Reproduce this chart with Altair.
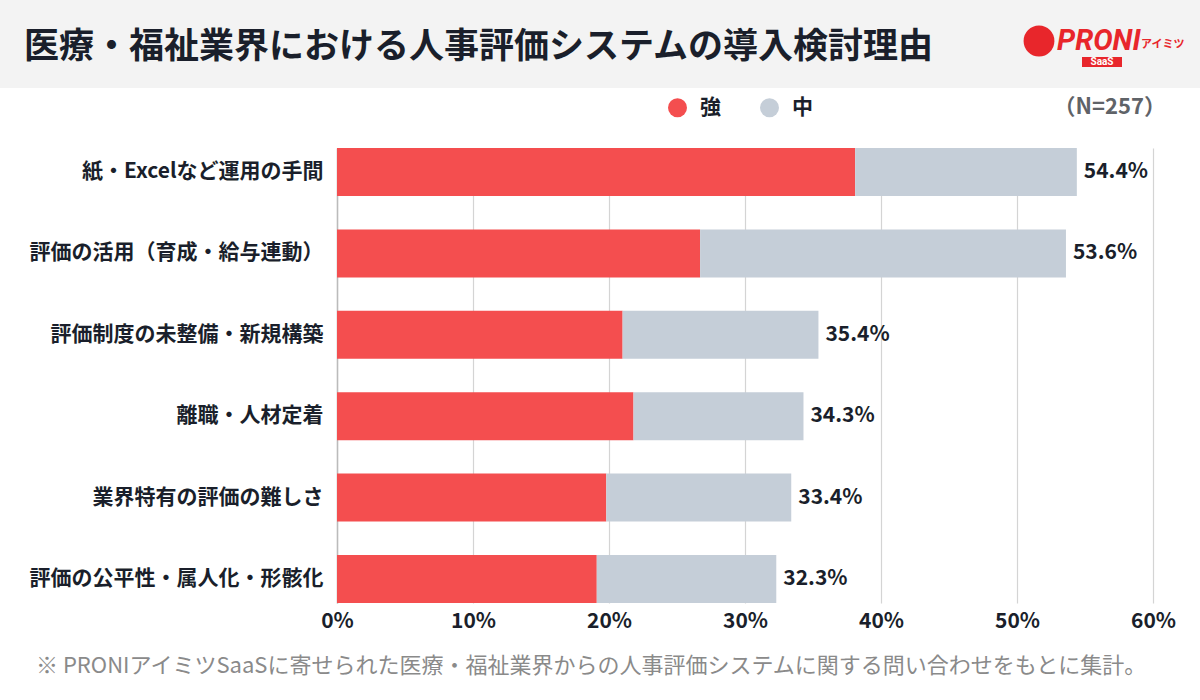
import altair as alt
import pandas as pd

# Survey reasons (top to bottom) and the share answering "strong" / "medium"
reasons = [
    "紙・Excelなど運用の手間",
    "評価の活用（育成・給与連動）",
    "評価制度の未整備・新規構築",
    "離職・人材定着",
    "業界特有の評価の難しさ",
    "評価の公平性・属人化・形骸化",
]
totals = [54.4, 53.6, 35.4, 34.3, 33.4, 32.3]
strong = [38.1, 26.7, 21.0, 21.8, 19.8, 19.1]
levels = ["強", "中"]
x_ticks = [0, 10, 20, 30, 40, 50, 60]

RED = "#f44e4f"
GREY = "#c5ced8"
INK = "#1a1f2b"
FONT = "Noto Sans CJK JP"

rows = []
for r, t, s in zip(reasons, totals, strong):
    rows.append({"reason": r, "level": "強", "value": s, "ord": 0})
    rows.append({"reason": r, "level": "中", "value": round(t - s, 1), "ord": 1})
bars_df = pd.DataFrame(rows)
totals_df = pd.DataFrame({"reason": reasons, "total": totals,
                          "label": [f"{t:.1f}%" for t in totals]})

W, H = 816, 455
LEFT, TOP = 337, 148

y_enc = alt.Y(
    "reason:N", sort=reasons, title=None,
    scale=alt.Scale(paddingInner=0.41, paddingOuter=0),
    axis=alt.Axis(labelFontSize=21, labelFontWeight="bold", labelColor=INK,
                  labelFont=FONT, labelPadding=14, labelLimit=0, ticks=False,
                  domain=True, domainColor="#bbbbbb", domainWidth=1.5, grid=False),
)

bars = alt.Chart(bars_df).mark_bar().encode(
    x=alt.X("value:Q", stack="zero", title=None,
            scale=alt.Scale(domain=[0, 60], nice=False),
            axis=alt.Axis(values=x_ticks, labelExpr="datum.value + '%'",
                          labelFontSize=21, labelFontWeight="bold", labelColor=INK,
                          labelFont=FONT, labelPadding=7, labelAlign="center",
                          labelFlush=False, labelBound=False, ticks=False, domain=False,
                          grid=True, gridColor="#d4d4d4", gridWidth=1.2)),
    y=y_enc,
    color=alt.Color("level:N", scale=alt.Scale(domain=levels, range=[RED, GREY]),
                    legend=alt.Legend(title=None, orient="none", direction="horizontal",
                                      legendX=667 - LEFT, legendY=97 - TOP,
                                      symbolType="circle", symbolSize=360,
                                      symbolStrokeWidth=0, labelFontSize=21,
                                      labelFontWeight="bold", labelColor=INK,
                                      labelFont=FONT, columnPadding=38, labelOffset=12)),
    order=alt.Order("ord:Q"),
)

total_text = alt.Chart(totals_df).mark_text(
    align="left", baseline="middle", dx=7, fontSize=21, fontWeight="bold",
    color=INK, font=FONT,
).encode(x="total:Q", y=alt.Y("reason:N", sort=reasons), text="label:N")

# Header band, title, sample size, footnote and brand mark
one = pd.DataFrame({"k": [0]})
header = alt.Chart(one).mark_rect(color="#f3f3f3").encode(
    x=alt.value(-LEFT), x2=alt.value(1200 - LEFT), y=alt.value(-TOP), y2=alt.value(88 - TOP))

title = alt.Chart(one).mark_text(
    text="医療・福祉業界における人事評価システムの導入検討理由",
    align="left", baseline="middle", fontSize=35, fontWeight="bold", color=INK, font=FONT,
).encode(x=alt.value(24 - LEFT), y=alt.value(47 - TOP))

n_text = alt.Chart(one).mark_text(
    text="（N=257）", align="right", baseline="middle", fontSize=22, fontWeight="bold",
    color="#5f6368", font=FONT,
).encode(x=alt.value(1166 - LEFT), y=alt.value(107 - TOP))

footnote = alt.Chart(one).mark_text(
    text="※ PRONIアイミツSaaSに寄せられた医療・福祉業界からの人事評価システムに関する問い合わせをもとに集計。",
    align="left", baseline="middle", fontSize=22, color="#8a8a8a", font=FONT,
).encode(x=alt.value(36 - LEFT), y=alt.value(666 - TOP))

logo_disc = alt.Chart(one).mark_point(filled=True, shape="circle", size=950,
                                      color="#e8262b", opacity=1).encode(
    x=alt.value(1039 - LEFT), y=alt.value(41 - TOP))
logo_word = alt.Chart(one).mark_text(
    text="PRONI", align="left", baseline="middle", fontSize=29, fontWeight="bold",
    fontStyle="italic", color="#e8262b", font="Roboto",
).encode(x=alt.value(1057 - LEFT), y=alt.value(41 - TOP))
logo_kana = alt.Chart(one).mark_text(
    text="アイミツ", align="left", baseline="middle", fontSize=11, fontWeight="bold",
    color="#e8262b", font=FONT,
).encode(x=alt.value(1141 - LEFT), y=alt.value(45 - TOP))
logo_tag = alt.Chart(one).mark_rect(color="#e8262b").encode(
    x=alt.value(1082 - LEFT), x2=alt.value(1122 - LEFT),
    y=alt.value(57 - TOP), y2=alt.value(67 - TOP))
logo_saas = alt.Chart(one).mark_text(
    text="SaaS", align="center", baseline="middle", fontSize=10, fontWeight="bold",
    color="white", font="Roboto",
).encode(x=alt.value(1102 - LEFT), y=alt.value(62 - TOP))

chart = alt.layer(
    header, title, n_text, footnote, logo_disc, logo_word, logo_kana, logo_tag, logo_saas,
    bars, total_text,
).properties(
    width=W, height=H,
    autosize=alt.AutoSizeParams(type="none"),
    padding={"left": LEFT, "top": TOP, "right": 1200 - LEFT - W, "bottom": 700 - TOP - H},
    background="white",
).configure_view(stroke=None)

chart.save("out.html", embed_options={"renderer": "svg", "actions": False})
